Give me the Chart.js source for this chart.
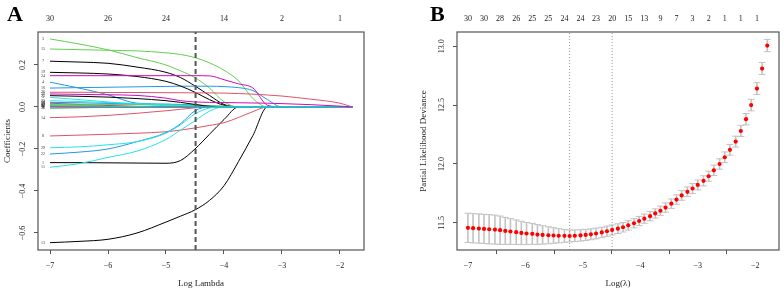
<!DOCTYPE html>
<html>
<head>
<meta charset="utf-8">
<script src="https://cdn.jsdelivr.net/npm/chart.js@4.4.1/dist/chart.umd.min.js"></script>
<style>
  html, body { margin: 0; padding: 0; background: #fff; }
  #wrap { position: relative; width: 784px; height: 291px; overflow: hidden; }
  .panel { position: absolute; top: 0; }
  .tag { position: absolute; font-family: "Liberation Serif", serif; font-weight: bold; font-size: 22px; line-height: 22px; color: #000; }
</style>
</head>
<body>
<div id="wrap">
  <canvas id="coefChart" class="panel" width="392" height="291" style="left:0"></canvas>
  <canvas id="cvChart" class="panel" width="392" height="291" style="left:392px"></canvas>
  <div class="tag" style="left:7px;top:3px">A</div>
  <div class="tag" style="left:430px;top:3px">B</div>
</div>
<script>
// ---- panel A: lasso coefficient paths (one array per variable, on pathLambda) ----
const pathLambda = [-7, -6.5, -6, -5.5, -5, -4.75, -4.5, -4.25, -4, -3.75, -3.5, -3.25, -3, -2.5, -2, -1.79];
const b1  = [-0.265, -0.265, -0.266, -0.267, -0.268, -0.255, -0.2, -0.13, -0.06, 0, 0, 0, 0, 0, 0, 0];
const b2  = [0.002, 0.001, 0, 0, 0, 0, 0, 0, 0, 0, 0, 0, 0, 0, 0, 0];
const b3  = [0.324, 0.3, 0.272, 0.235, 0.2, 0.172, 0.14, 0.09, 0.025, 0, 0, 0, 0, 0, 0, 0];
const b4  = [0.118, 0.09, 0.058, 0.018, 0.014, 0.012, 0.01, 0.006, 0.002, 0, 0, 0, 0, 0, 0, 0];
const b5  = [0.046, 0.035, 0.024, 0.013, 0.006, 0.003, 0, 0, 0, 0, 0, 0, 0, 0, 0, 0];
const b6  = [0.006, 0.004, 0.002, 0.001, 0, 0, 0, 0, 0, 0, 0, 0, 0, 0, 0, 0];
const b7  = [0.218, 0.214, 0.208, 0.19, 0.165, 0.14, 0.1, 0.055, 0.012, 0, 0, 0, 0, 0, 0, 0];
const b8  = [-0.138, -0.134, -0.13, -0.125, -0.118, -0.11, -0.1, -0.088, -0.075, -0.05, -0.022, 0, 0, 0, 0, 0];
const b9  = [-0.006, -0.004, -0.002, 0, 0, 0, 0, 0, 0, 0, 0, 0, 0, 0, 0, 0];
const b10 = [0.022, 0.02, 0.017, 0.014, 0.011, 0.009, 0.007, 0.004, 0.001, 0, 0, 0, 0, 0, 0, 0];
const b11 = [-0.287, -0.27, -0.24, -0.21, -0.155, -0.11, -0.066, -0.02, 0, 0, 0, 0, 0, 0, 0, 0];
const b12 = [0.004, 0.003, 0.002, 0.001, 0, 0, 0, 0, 0, 0, 0, 0, 0, 0, 0, 0];
const b13 = [-0.646, -0.64, -0.63, -0.6, -0.548, -0.52, -0.49, -0.445, -0.375, -0.26, -0.135, 0, 0, 0, 0, 0];
const b14 = [-0.051, -0.047, -0.04, -0.03, -0.018, -0.011, -0.004, 0, 0, 0, 0, 0, 0, 0, 0, 0];
const b15 = [0.276, 0.273, 0.27, 0.267, 0.258, 0.25, 0.235, 0.21, 0.175, 0.125, 0.04, 0, 0, 0, 0, 0];
const b16 = [0.09, 0.092, 0.094, 0.096, 0.098, 0.099, 0.099, 0.099, 0.097, 0.092, 0.078, 0.035, 0, 0, 0, 0];
const b17 = [0.012, 0.008, 0.004, 0.001, 0, 0, 0, 0, 0, 0, 0, 0, 0, 0, 0, 0];
const b18 = [0.018, 0.012, 0.007, 0.003, 0.001, 0, 0, 0, 0, 0, 0, 0, 0, 0, 0, 0];
const b19 = [0.165, 0.162, 0.157, 0.145, 0.122, 0.1, 0.07, 0.035, 0.008, 0, 0, 0, 0, 0, 0, 0];
const b20 = [0.003, 0.002, 0.001, 0, 0, 0, 0, 0, 0, 0, 0, 0, 0, 0, 0, 0];
const b21 = [0.014, 0.013, 0.012, 0.011, 0.01, 0.009, 0.008, 0.006, 0.004, 0.002, 0, 0, 0, 0, 0, 0];
const b22 = [-0.224, -0.215, -0.2, -0.165, -0.122, -0.08, -0.018, 0, 0, 0, 0, 0, 0, 0, 0, 0];
const b23 = [0.03, 0.026, 0.021, 0.016, 0.01, 0.007, 0.004, 0.001, 0, 0, 0, 0, 0, 0, 0, 0];
const b24 = [0.149, 0.149, 0.149, 0.149, 0.149, 0.149, 0.149, 0.148, 0.13, 0.11, 0.09, 0.008, 0, 0, 0, 0];
const b25 = [0.054, 0.051, 0.047, 0.04, 0.03, 0.022, 0.012, 0.003, 0, 0, 0, 0, 0, 0, 0, 0];
const b26 = [0.07, 0.07, 0.069, 0.069, 0.068, 0.068, 0.067, 0.067, 0.066, 0.064, 0.061, 0.057, 0.052, 0.037, 0.018, 0];
const b27 = [0.008, 0.006, 0.004, 0.002, 0.001, 0, 0, 0, 0, 0, 0, 0, 0, 0, 0, 0];
const b28 = [-0.004, -0.003, -0.002, -0.001, 0, 0, 0, 0, 0, 0, 0, 0, 0, 0, 0, 0];
const b29 = [-0.194, -0.19, -0.18, -0.165, -0.125, -0.085, -0.033, -0.005, 0, 0, 0, 0, 0, 0, 0, 0];
const b30 = [0.062, 0.06, 0.058, 0.055, 0.042, 0.03, 0.024, 0.022, 0.021, 0.02, 0.019, 0.018, 0.016, 0.011, 0.004, 0];
const coefPaths = [b1, b2, b3, b4, b5, b6, b7, b8, b9, b10, b11, b12, b13, b14, b15,
                   b16, b17, b18, b19, b20, b21, b22, b23, b24, b25, b26, b27, b28, b29, b30];

const dfLambdaA = [-7, -6, -5, -4, -3, -2];
const dfLabelsA = ['30', '26', '24', '14', '2', '1'];
const xTicks = [-7, -6, -5, -4, -3, -2];
const yTicksA = [-0.6, -0.4, -0.2, 0, 0.2];
const xRangeA = [-7.207, -1.586];
const yRangeA = [-0.681, 0.357];
const lambdaSel = -4.49;

// ---- panel B: cross-validated partial likelihood deviance ----
const cvLambda = [-7.00, -6.91, -6.81, -6.72, -6.63, -6.53, -6.44, -6.35, -6.26, -6.16,
                  -6.07, -5.98, -5.88, -5.79, -5.70, -5.60, -5.51, -5.42, -5.32, -5.23,
                  -5.14, -5.04, -4.95, -4.86, -4.77, -4.67, -4.58, -4.49, -4.39, -4.30,
                  -4.21, -4.11, -4.02, -3.93, -3.83, -3.74, -3.65, -3.56, -3.46, -3.37,
                  -3.28, -3.18, -3.09, -3.00, -2.90, -2.81, -2.72, -2.62, -2.53, -2.44,
                  -2.34, -2.25, -2.16, -2.07, -1.97, -1.88, -1.79];
const cvMean = [11.458, 11.455, 11.452, 11.449, 11.446, 11.443, 11.438, 11.432, 11.427, 11.421,
                11.415, 11.410, 11.407, 11.401, 11.398, 11.395, 11.393, 11.391, 11.390, 11.389,
                11.391, 11.394, 11.398, 11.403, 11.410, 11.419, 11.429, 11.440, 11.451, 11.463,
                11.479, 11.497, 11.516, 11.536, 11.557, 11.580, 11.603, 11.630, 11.663, 11.698,
                11.733, 11.764, 11.792, 11.822, 11.857, 11.896, 11.946, 12.000, 12.057, 12.120,
                12.190, 12.280, 12.380, 12.500, 12.640, 12.810, 13.005];
const cvSE = [0.124, 0.124, 0.124, 0.124, 0.124, 0.123, 0.120, 0.115, 0.109, 0.104,
              0.099, 0.094, 0.089, 0.084, 0.078, 0.072, 0.066, 0.060, 0.055, 0.051,
              0.049, 0.048, 0.047, 0.046, 0.045, 0.044, 0.043, 0.042, 0.041, 0.040,
              0.040, 0.039, 0.039, 0.039, 0.039, 0.039, 0.039, 0.040, 0.040, 0.040,
              0.041, 0.041, 0.042, 0.042, 0.043, 0.043, 0.044, 0.044, 0.045, 0.045,
              0.046, 0.047, 0.048, 0.049, 0.050, 0.051, 0.052];
const dfLambdaB = [-7.00, -6.72, -6.44, -6.16, -5.88, -5.60, -5.32, -5.04, -4.77, -4.49,
                   -4.21, -3.93, -3.65, -3.37, -3.09, -2.81, -2.53, -2.25, -1.97];
const dfLabelsB = ['30', '30', '28', '26', '25', '25', '24', '24', '23', '20',
                   '15', '13', '9', '7', '3', '2', '1', '1', '1'];
const yTicksB = [11.5, 12.0, 12.5, 13.0];
const xRangeB = [-7.19, -1.586];
const yRangeB = [11.27, 13.12];
const lambdaMin = -5.23;
const lambda1se = -4.49;

// ---- styling helpers ----
const serif = '"Liberation Serif", "Times New Roman", serif';
const ink = '#222';
const frame = '#555';
const rPalette = ['#000000', '#DF536B', '#61D04F', '#2297E6', '#28E2E5', '#CD0BBC'];
const minus = s => String(s).replace('-', '\u2212');

const fixedTicks = values => scale => { scale.ticks = values.map(v => ({ value: v })); };

function bottomAxis(range, title) {
  return {
    type: 'linear', position: 'bottom', min: range[0], max: range[1],
    afterBuildTicks: fixedTicks(xTicks),
    afterFit: s => { s.height = 41; },
    grid: { drawOnChartArea: false, tickLength: 4, color: frame },
    border: { display: false },
    ticks: { autoSkip: false, maxRotation: 0, padding: 7, color: ink,
             font: { family: serif, size: 8 }, callback: v => minus(v) },
    title: { display: true, text: title, color: ink, font: { family: serif, size: 9 },
             padding: { top: 0, bottom: 2 } }
  };
}

function topAxis(range, pos, labels) {
  return {
    type: 'linear', axis: 'x', position: 'top', min: range[0], max: range[1],
    afterBuildTicks: fixedTicks(pos),
    afterFit: s => { s.height = 32; },
    grid: { display: false, drawTicks: false },
    border: { display: false },
    ticks: { autoSkip: false, maxRotation: 0, padding: 8, color: ink,
             font: { family: serif, size: 8 }, callback: (v, i) => labels[i] }
  };
}

function leftAxis(range, ticks, width, title, titlePad) {
  return {
    type: 'linear', position: 'left', min: range[0], max: range[1],
    afterBuildTicks: fixedTicks(ticks),
    afterFit: s => { s.width = width; },
    grid: { drawOnChartArea: false, tickLength: 4, color: frame },
    border: { display: false },
    ticks: { display: false },
    title: { display: true, text: title, color: ink, font: { family: serif, size: 9 },
             padding: { top: titlePad, bottom: 0 } }
  };
}

// R style: y tick labels run parallel to the axis
const rotatedYTicks = {
  id: 'rotatedYTicks',
  afterDraw(chart, args, opts) {
    const s = chart.scales.y, ctx = chart.ctx;
    ctx.save();
    ctx.font = '8px ' + serif;
    ctx.fillStyle = ink;
    ctx.textAlign = 'center';
    ctx.textBaseline = 'middle';
    s.ticks.forEach(t => {
      ctx.save();
      ctx.translate(chart.chartArea.left - 15, s.getPixelForValue(t.value));
      ctx.rotate(-Math.PI / 2);
      ctx.fillText(minus(t.value.toFixed(1)), 0, 0);
      ctx.restore();
    });
    ctx.restore();
  }
};

const frameBox = {
  id: 'frameBox',
  afterDatasetsDraw(chart) {
    const { left, top, right, bottom } = chart.chartArea, ctx = chart.ctx;
    ctx.save();
    ctx.strokeStyle = frame;
    ctx.lineWidth = 1.2;
    ctx.strokeRect(left, top, right - left, bottom - top);
    ctx.restore();
  }
};

// tiny variable numbers at the left end of each path
const pathLabels = {
  id: 'pathLabels',
  afterDatasetsDraw(chart) {
    const xs = chart.scales.x, ys = chart.scales.y, ctx = chart.ctx;
    ctx.save();
    ctx.font = '4px ' + serif;
    ctx.fillStyle = '#333';
    ctx.textAlign = 'center';
    ctx.textBaseline = 'middle';
    chart.data.datasets.forEach(ds => {
      if (!ds.varLabel) return;
      ctx.fillText(ds.label, xs.getPixelForValue(pathLambda[0]) - 7, ys.getPixelForValue(ds.data[0].y));
    });
    ctx.restore();
  }
};

const pathDatasets = coefPaths.map((vals, k) => ({
  label: String(k + 1),
  varLabel: true,
  data: pathLambda.map((x, i) => ({ x, y: vals[i] })),
  showLine: true,
  borderColor: rPalette[k % 6],
  borderWidth: 1,
  pointRadius: 0,
  cubicInterpolationMode: 'monotone',
  order: -(k + 1)
}));

new Chart(document.getElementById('coefChart'), {
  type: 'scatter',
  data: {
    datasets: [
      ...pathDatasets,
      {
        label: 'selected',
        data: [{ x: lambdaSel, y: yRangeA[0] }, { x: lambdaSel, y: yRangeA[1] }],
        showLine: true, borderColor: '#555', borderWidth: 2, borderDash: [5, 3],
        pointRadius: 0, order: -100
      }
    ]
  },
  options: {
    responsive: false,
    animation: false,
    layout: { padding: { left: 0, right: 28, top: 0, bottom: 0 } },
    plugins: { legend: { display: false }, tooltip: { enabled: false } },
    scales: {
      x: bottomAxis(xRangeA, 'Log Lambda'),
      xTop: topAxis(xRangeA, dfLambdaA, dfLabelsA),
      y: leftAxis(yRangeA, yTicksA, 38, 'Coefficients', 2)
    }
  },
  plugins: [rotatedYTicks, frameBox, pathLabels]
});

const barColor = '#c4c4c4';
new Chart(document.getElementById('cvChart'), {
  type: 'scatter',
  data: {
    datasets: [
      {
        type: 'bar',
        label: 'se',
        data: cvLambda.map((x, i) => ({ x, y: [cvMean[i] - cvSE[i], cvMean[i] + cvSE[i]] })),
        backgroundColor: barColor, barThickness: 1, order: 4
      },
      {
        label: 'upper',
        data: cvLambda.map((x, i) => ({ x, y: cvMean[i] + cvSE[i] })),
        pointStyle: 'line', pointRadius: 3.5, borderColor: barColor, borderWidth: 1, order: 3
      },
      {
        label: 'lower',
        data: cvLambda.map((x, i) => ({ x, y: cvMean[i] - cvSE[i] })),
        pointStyle: 'line', pointRadius: 3.5, borderColor: barColor, borderWidth: 1, order: 3
      },
      {
        label: 'mean',
        data: cvLambda.map((x, i) => ({ x, y: cvMean[i] })),
        pointRadius: 2.1, backgroundColor: '#ff0000', borderWidth: 0, order: 1
      },
      {
        label: 'lambda.min',
        data: [{ x: lambdaMin, y: yRangeB[0] }, { x: lambdaMin, y: yRangeB[1] }],
        showLine: true, borderColor: '#999', borderWidth: 1, borderDash: [1, 2], pointRadius: 0, order: 2
      },
      {
        label: 'lambda.1se',
        data: [{ x: lambda1se, y: yRangeB[0] }, { x: lambda1se, y: yRangeB[1] }],
        showLine: true, borderColor: '#999', borderWidth: 1, borderDash: [1, 2], pointRadius: 0, order: 2
      }
    ]
  },
  options: {
    responsive: false,
    animation: false,
    layout: { padding: { left: 0, right: 2, top: 0, bottom: 0 } },
    plugins: { legend: { display: false }, tooltip: { enabled: false } },
    scales: {
      x: Object.assign(bottomAxis(xRangeB, 'Log(\u03bb)'), { offset: false }),
      xTop: topAxis(xRangeB, dfLambdaB, dfLabelsB),
      y: leftAxis(yRangeB, yTicksB, 65, 'Partial Likelihood Deviance', 26)
    }
  },
  plugins: [rotatedYTicks, frameBox]
});
</script>
</body>
</html>
